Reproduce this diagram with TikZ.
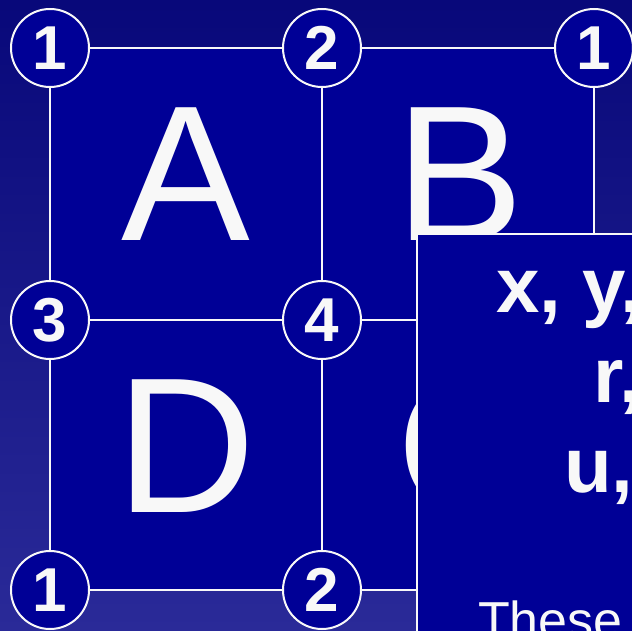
\documentclass[tikz,border=0pt]{standalone}
\usepackage{fontspec}
\usetikzlibrary{backgrounds}
\setmainfont{Liberation Sans}
\definecolor{bgtop}{RGB}{8,8,122}
\definecolor{bgbot}{RGB}{42,42,152}
\definecolor{sq}{RGB}{0,0,150}
\definecolor{wt}{RGB}{248,248,248}
\begin{document}
\begin{tikzpicture}[x=1pt,y=-1pt,
  num/.style={circle,draw=wt,line width=2pt,fill=sq,minimum size=78pt,inner sep=0pt,text=wt,font=\fontsize{62}{62}\selectfont\bfseries},
  grid/.style={draw=wt,line width=2.2pt},
  big/.style={text=wt,inner sep=0pt,font=\fontsize{193}{193}\selectfont},
  boxhead/.style={text=wt,inner sep=0pt,anchor=base west,font=\fontsize{78}{78}\selectfont\bfseries},
  boxtext/.style={text=wt,inner sep=0pt,anchor=base west,font=\fontsize{52}{52}\selectfont}]
\useasboundingbox (0,0) rectangle (632,631);
\clip (0,0) rectangle (632,631);
% circles
\node[num] (a1) at (50,48) {1};
\node[num] (a2) at (322,48) {2};
\node[num] (a3) at (594,48) {1};
\node[num] (b1) at (50,320) {3};
\node[num] (b2) at (322,320) {4};
\node[num] (c1) at (50,590) {1};
\node[num] (c2) at (322,590) {2};
\coordinate (br) at (640,320);
\coordinate (cr) at (640,590);
\coordinate (ad) at (594,640);
\begin{pgfonlayer}{background}
\shade[top color=bgtop,bottom color=bgbot] (0,0) rectangle (632,631);
\fill[sq] (50,48) rectangle (594,590);
\draw[grid] (a1) -- (a2) -- (a3);
\draw[grid] (b1) -- (b2) -- (br);
\draw[grid] (c1) -- (c2) -- (cr);
\draw[grid] (a1) -- (b1) -- (c1);
\draw[grid] (a2) -- (b2) -- (c2);
\draw[grid] (a3) -- (ad);
\end{pgfonlayer}
% letters
\node[big] (lA) at (186,174) {A};
\node[big] (lB) at (460,174) {B};
\node[big] (lD) at (186,446) {D};
\node[big] (lC) at (466,446) {C};
% overlay box
\node[draw=wt,line width=2pt,fill=sq,minimum width=400pt,minimum height=500pt,anchor=north west,inner sep=0pt] (box) at (416,233) {};
\node[boxhead] (t1) at (496,312) {x, y,};
\node[boxhead] (t2) at (593,402) {r,};
\node[boxhead] (t3) at (564,492) {u,};
\node[boxtext] (t4) at (478,638) {These};
\end{tikzpicture}
\end{document}
